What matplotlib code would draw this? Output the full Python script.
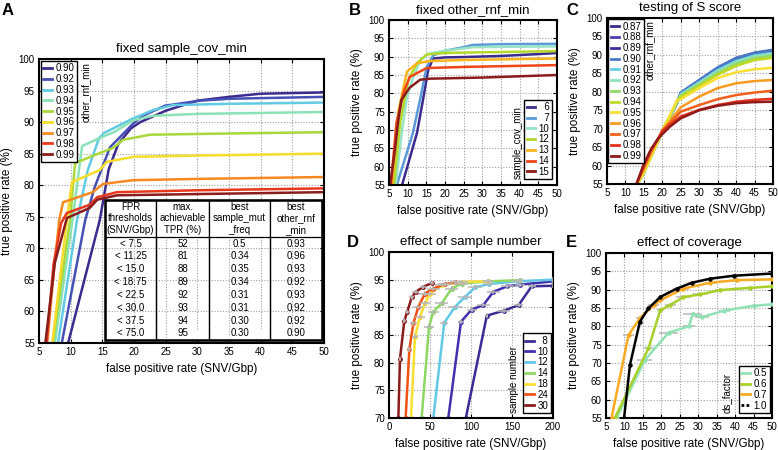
import matplotlib.pyplot as plt
from matplotlib.lines import Line2D
from matplotlib.patches import Rectangle

plt.rcParams['font.family'] = ['Liberation Sans', 'DejaVu Sans']

W, H = 778, 450

# ---------------- panel A : fixed sample_cov_min ----------------
a_labels = ['0.90', '0.92', '0.93', '0.94', '0.95', '0.96', '0.97', '0.98', '0.99']
a_colors = ['#3c2a8f', '#4650b4', '#62cbe4', '#8ae2b6', '#a9d83a', '#f7dc2c', '#f6891f', '#e8381c', '#8b1c1c']
a_x = [
    [9.6, 14.6, 16.0, 17.5, 19.5, 21.0, 25.0, 30.0, 35.0, 40.0, 50.0],
    [8.6, 12.3, 13.8, 16.2, 19.9, 21.4, 24.9, 30.4, 35.0, 50.0],
    [8.0, 11.0, 12.7, 14.5, 15.3, 19.9, 23.0, 26.2, 35.0, 50.0],
    [7.5, 10.3, 11.8, 14.2, 17.0, 19.9, 23.0, 30.0, 50.0],
    [7.2, 9.9, 10.7, 14.6, 16.7, 18.3, 22.5, 35.0, 50.0],
    [7.1, 9.4, 10.2, 14.6, 15.7, 19.9, 30.0, 50.0],
    [6.3, 7.4, 8.2, 8.8, 13.5, 15.1, 19.9, 30.0, 50.0],
    [6.2, 7.3, 8.5, 9.4, 13.0, 14.2, 17.3, 30.0, 50.0],
    [6.0, 7.5, 9.4, 13.0, 14.2, 17.3, 30.0, 50.0],
]
a_y = [
    [55, 74.5, 82.5, 86.5, 89.0, 90.0, 91.8, 93.4, 94.0, 94.5, 94.7],
    [55, 74.5, 79.7, 86.0, 89.8, 91.0, 92.6, 93.4, 93.7, 94.0],
    [55, 74.5, 82.4, 87.5, 88.3, 90.6, 91.9, 92.7, 92.9, 93.1],
    [55, 74.5, 86.2, 87.3, 88.5, 90.3, 91.0, 91.3, 91.6],
    [55, 74.5, 83.5, 85.1, 85.9, 87.2, 88.0, 88.2, 88.4],
    [55, 74.5, 80.5, 82.4, 83.7, 84.5, 84.7, 85.0],
    [55, 67.0, 74.5, 77.3, 78.9, 80.2, 80.8, 81.0, 81.3],
    [55, 67.5, 74.0, 75.6, 76.9, 78.1, 78.9, 79.2, 79.5],
    [55, 67.7, 74.8, 76.4, 77.7, 78.4, 78.6, 78.9],
]
table_header = ['FPR\nthresholds\n(SNV/Gbp)', 'max.\nachievable\nTPR (%)',
                'best\nsample_mut\n_freq', 'best\nother_rnf\n_min']
table_fpr = ['< 7.5', '< 11.25', '< 15.0', '< 18.75', '< 22.5', '< 30.0', '< 37.5', '< 75.0']
table_tpr = ['52', '81', '88', '89', '92', '93', '94', '95']
table_mut = ['0.5', '0.34', '0.35', '0.34', '0.31', '0.31', '0.30', '0.30']
table_rnf = ['0.93', '0.96', '0.93', '0.92', '0.93', '0.92', '0.92', '0.90']

# ---------------- panel B : fixed other_rnf_min ----------------
b_labels = ['6', '7', '10', '12', '13', '14', '15']
b_colors = ['#3c2a8f', '#5a9ad8', '#96e4c4', '#b4d82a', '#fbb41c', '#ef4616', '#8b1c1c']
b_x = [
    [8.5, 12.5, 14.1, 15.5, 16.8, 20, 25, 35, 45, 50],
    [7.1, 11.4, 13.3, 15.1, 16.8, 20, 25, 27.5, 35, 50],
    [6.8, 8.5, 9.8, 11.2, 13.3, 15.5, 20, 27.5, 50],
    [6.3, 8.0, 10.1, 12.5, 15.1, 20, 30, 50],
    [5.8, 7.5, 9.8, 12.5, 16, 25, 50],
    [5.5, 7.0, 9.0, 10.6, 15.1, 25, 50],
    [5.3, 6.6, 7.4, 8.3, 10.5, 13.3, 16, 30, 50],
]
b_y = [
    [55, 69.2, 78.2, 86.4, 89.5, 89.8, 89.9, 90.2, 90.7, 91.0],
    [55, 69.2, 78.2, 87.2, 90.3, 91.6, 92.6, 93.2, 93.4, 93.5],
    [55, 70.0, 79.0, 83.6, 89.0, 90.8, 91.6, 92.6, 92.8],
    [55, 72.0, 83.6, 88.2, 90.6, 91.0, 91.2, 91.5],
    [55, 75.0, 85.9, 88.2, 88.8, 89.1, 89.5],
    [55, 72.0, 80.5, 84.5, 86.9, 87.2, 87.7],
    [55, 64.6, 71.9, 78.2, 81.5, 83.7, 84.0, 84.3, 85.0],
]

# ---------------- panel C : testing of S score ----------------
c_labels = ['0.87', '0.88', '0.89', '0.90', '0.91', '0.92', '0.93',
            '0.94', '0.95', '0.96', '0.97', '0.98', '0.99']
c_colors = ['#3a2c8c', '#4a3db0', '#3f2c9c', '#4c78c6', '#62cde6', '#90e2ba', '#94d866',
            '#c2d822', '#f8e032', '#f79a20', '#f0601a', '#e0301a', '#901a1a']
c_x_top = [13.2, 15, 17, 19, 20, 22, 24, 25, 30, 35, 40, 45, 50]
c_x_low = [13.0, 15, 17, 19, 20, 22, 25, 30, 35, 40, 45, 50]
c_y = [
    [55, 58.5, 63.0, 67.0, 69.5, 73.0, 77.0, 79.5, 82.8, 86.2, 88.8, 90.2, 91.0],
    [55, 58.3, 62.8, 67.0, 69.3, 73.0, 77.0, 79.6, 83.0, 86.4, 89.0, 90.4, 91.2],
    [55, 58.4, 62.9, 67.1, 69.4, 73.1, 77.1, 79.7, 83.1, 86.5, 89.1, 90.5, 91.2],
    [55, 58.2, 62.7, 67.0, 69.4, 73.2, 77.2, 79.8, 83.2, 86.6, 89.2, 90.6, 91.4],
    [55, 57.8, 62.5, 66.8, 69.3, 73.0, 77.0, 79.4, 82.6, 85.9, 88.4, 89.9, 90.6],
    [55, 58.0, 62.6, 66.9, 69.4, 73.1, 77.1, 79.2, 82.4, 85.6, 88.1, 89.6, 90.3],
    [55, 58.1, 62.7, 67.0, 69.5, 73.2, 77.3, 79.0, 82.0, 85.1, 87.6, 89.1, 89.8],
    [55, 58.0, 62.6, 67.0, 69.6, 73.4, 77.5, 78.6, 81.6, 84.6, 87.0, 88.6, 89.2],
    [55, 58.0, 62.5, 67.0, 69.5, 73.5, 77.8, 78.0, 81.0, 83.7, 85.3, 86.1, 86.5],
]
c_y_low = [
    [55, 59.0, 63.5, 67.5, 69.5, 72.0, 75.8, 78.7, 81.0, 82.3, 82.9, 83.2],
    [55, 59.5, 64.0, 67.5, 69.5, 71.5, 74.6, 76.4, 78.0, 79.1, 79.8, 80.3],
    [55, 60.0, 64.5, 67.5, 69.3, 71.0, 73.3, 75.1, 76.4, 77.3, 77.8, 78.1],
    [55, 60.5, 64.5, 67.5, 68.5, 70.5, 72.8, 75.0, 76.2, 76.9, 77.2, 77.3],
]

# ---------------- panel D : effect of sample number ----------------
d_labels = ['8', '10', '12', '14', '18', '24', '30']
d_colors = ['#3b2c94', '#4330ae', '#62c8e6', '#8cd862', '#f8e032', '#f05212', '#8b1c1c']
d_x = [
    [93.7, 119.3, 140, 158, 174, 200],
    [72.3, 87.8, 100.8, 115, 127.2, 144, 160, 200],
    [54, 67.4, 80.5, 92.7, 104.9, 121.6, 156, 200],
    [39.8, 48.8, 54, 64.2, 76.4, 88.6, 121, 160],
    [26.8, 31.7, 37.8, 43.9, 50, 64.2, 88.6, 121],
    [20.3, 24.8, 29.7, 35.8, 43.9, 54, 68.3, 80],
    [11.4, 13.4, 18.7, 22.3, 27.7, 32.6, 41.8, 52.1],
]
d_y = [
    [70, 88.5, 89.4, 90.4, 93.8, 93.9],
    [70, 87.4, 89.6, 90.4, 92.8, 93.8, 94.1, 94.7],
    [70, 87.2, 90.1, 91.9, 93.6, 94.2, 94.7, 95.0],
    [70, 86.5, 89.2, 90.7, 93.4, 94.3, 94.7, 94.9],
    [70, 84.7, 88.3, 90.7, 92.5, 94.0, 94.6, 94.7],
    [70, 82.4, 87.1, 90.1, 92.5, 93.4, 94.2, 94.5],
    [70, 80.7, 87.6, 89.2, 91.8, 92.8, 93.7, 94.4],
]
d_xerr = [
    [0, 2, 8, 5, 5, 0],
    [0, 4, 6, 8, 8, 8, 6, 0],
    [0, 5, 9, 8, 8, 7, 6, 0],
    [0, 6, 7, 8, 8, 8, 6, 4],
    [0, 4, 6, 6, 7, 8, 8, 6],
    [0, 3, 4, 6, 7, 8, 8, 6],
    [0, 1, 2, 3, 3, 4, 4, 3],
]

# ---------------- panel E : effect of coverage ----------------
e_labels = ['0.5', '0.6', '0.7', '1.0']
e_colors = ['#90e2b4', '#a8d02a', '#f8aa22', '#000000']
e_x = [
    [7.9, 15.5, 22.0, 27.5, 28.5, 31.0, 37.0, 45.0, 50.0],
    [7.4, 16.5, 19.7, 22.4, 26.0, 30.5, 36.0, 44.1, 50.0],
    [6.5, 11.1, 14.2, 17.9, 19.7, 26.0, 33.3, 40.5, 50.0],
    [9.9, 11.5, 14.2, 16.5, 19.7, 24.2, 28.3, 33.3, 39.6, 50.0],
]
e_y = [
    [55, 70.8, 78.3, 80.0, 83.4, 82.5, 84.3, 85.6, 86.0],
    [55, 74.0, 84.4, 85.8, 88.0, 88.7, 89.9, 90.5, 90.9],
    [55, 77.6, 82.2, 85.8, 87.1, 90.3, 91.9, 92.6, 92.8],
    [55, 69.5, 81.3, 84.9, 88.0, 90.3, 91.9, 93.0, 93.8, 94.4],
]
e_xerr = [
    [0, 2.0, 2.5, 1.5, 2.5, 2.0, 1.5, 1.5, 0],
    [0, 1.5, 1.0, 1.5, 2.0, 2.0, 1.5, 1.5, 0],
    [0, 1.5, 1.0, 1.5, 1.0, 1.5, 1.5, 1.0, 0],
    [0, 0.5, 0.5, 0.5, 0.5, 1.0, 1.0, 1.0, 1.0, 0],
]

fig = plt.figure(figsize=(7.78, 4.5), dpi=100)


def px_axes(left, top, right, bottom):
    return fig.add_axes([left / W, 1 - bottom / H, (right - left) / W, (bottom - top) / H])


def style(ax, xlim, ylim, step_x, step_y, title):
    ax.set_xlim(xlim)
    ax.set_ylim(ylim)
    ax.set_xticks(range(xlim[0], xlim[1] + 1, step_x))
    ax.set_yticks(range(ylim[0], ylim[1] + 1, step_y))
    ax.grid(True, color='#a0a0a0', linestyle=(0, (1, 1.5)), linewidth=0.8)
    ax.set_axisbelow(True)
    ax.tick_params(direction='in', length=3, width=0.8, labelsize=7, pad=3,
                   top=True, right=True)
    for s in ax.spines.values():
        s.set_linewidth(1.5)
    ax.set_xlabel('false positive rate (SNV/Gbp)', fontsize=8.4, labelpad=4)
    ax.set_ylabel('true positive rate (%)', fontsize=8.4, labelpad=4)
    ax.set_title(title, fontsize=9.5, pad=5)


def key(ax, handles, labels, loc, anchor):
    leg = ax.legend(handles, labels, loc=loc, bbox_to_anchor=anchor, fontsize=7,
                    frameon=True, fancybox=False, framealpha=1, edgecolor='black',
                    handlelength=0.9, handletextpad=0.35, labelspacing=0.08,
                    borderpad=0.25, borderaxespad=0)
    leg.get_frame().set_linewidth(1.0)
    leg.set_zorder(6)
    return leg


def pad(lbl, n):
    return '\u2007' * (n - len(lbl)) + lbl


# ---- A ----
axA = px_axes(39, 59, 324, 343)
style(axA, (5, 50), (55, 100), 5, 5, 'fixed sample_cov_min')
for x, y, c in zip(a_x, a_y, a_colors):
    axA.plot(x, y, color=c, lw=1.8, solid_joinstyle='round')
hA = [Line2D([], [], color=c, lw=2) for c in a_colors]
key(axA, hA, a_labels, 'upper left', (0.007, 0.993))
axA.text(0.163, 0.99, 'other_rnf_min', rotation=90, transform=axA.transAxes,
         ha='center', va='top', fontsize=7)

cells = [list(r) for r in zip(table_fpr, table_tpr, table_mut, table_rnf)]
tab = axA.table(cellText=cells, colLabels=table_header, cellLoc='center',
                colWidths=[51, 53, 61, 52], bbox=[0.232, 0.011, 0.761, 0.493])
tab.auto_set_font_size(False)
tab.set_fontsize(7)
tab.set_zorder(5)
nrows = len(cells)
for (r, c), cell in tab.get_celld().items():
    cell.set_linewidth(0.9)
    cell.set_facecolor('white')
    if r == 0:
        cell.set_height(2.9)
        cell.visible_edges = 'closed'
    else:
        cell.set_height(1.0)
        cell.visible_edges = 'LR' if r < nrows else 'BLR'
axA.add_patch(Rectangle((0.232, 0.011), 0.761, 0.493, transform=axA.transAxes,
                        fill=False, lw=1.8, edgecolor='black', zorder=7))

# ---- B ----
axB = px_axes(389, 20, 557, 185)
style(axB, (5, 50), (55, 100), 5, 5, 'fixed other_rnf_min')
for x, y, c in zip(b_x, b_y, b_colors):
    axB.plot(x, y, color=c, lw=1.8)
hB = [Line2D([], [], color=c, lw=2) for c in b_colors]
key(axB, hB, [pad(l, 2) for l in b_labels], 'lower right', (0.97, 0.035))
axB.text(0.765, 0.035, 'sample_cov_min', rotation=90, transform=axB.transAxes,
         ha='center', va='bottom', fontsize=7)

# ---- C ----
axC = px_axes(607, 18, 773, 184)
style(axC, (5, 50), (55, 100), 5, 5, 'testing of S score')
for y, c in zip(c_y, c_colors[:9]):
    axC.plot(c_x_top, y, color=c, lw=1.8)
for y, c in zip(c_y_low, c_colors[9:]):
    axC.plot(c_x_low, y, color=c, lw=1.8)
hC = [Line2D([], [], color=c, lw=2) for c in c_colors]
key(axC, hC, c_labels, 'upper left', (0.007, 0.993))
axC.text(0.255, 0.99, 'other_rnf_min', rotation=90, transform=axC.transAxes,
         ha='center', va='top', fontsize=7)

# ---- D ----
axD = px_axes(389, 252, 553, 418)
style(axD, (0, 200), (70, 100), 50, 5, 'effect of sample number')
for x, y, xe, c in zip(d_x, d_y, d_xerr, d_colors):
    axD.plot(x, y, color=c, lw=1.8, marker='o', ms=2.5)
    axD.errorbar(x[1:], y[1:], xerr=xe[1:], yerr=0.4, fmt='none',
                 ecolor='#b8b8b8', elinewidth=1.1, capsize=0, zorder=3)
hD = [Line2D([], [], color=c, lw=2) for c in d_colors]
key(axD, hD, [pad(l, 2) for l in d_labels], 'lower right', (0.985, 0.03))
axD.text(0.76, 0.03, 'sample number', rotation=90, transform=axD.transAxes,
         ha='center', va='bottom', fontsize=7)

# ---- E ----
axE = px_axes(606, 253, 772, 418)
style(axE, (5, 50), (55, 100), 5, 5, 'effect of coverage')
for x, y, xe, c in zip(e_x, e_y, e_xerr, e_colors):
    axE.errorbar(x[1:-1], y[1:-1], xerr=xe[1:-1], yerr=0.5, fmt='none',
                 ecolor='#b8b8b8', elinewidth=1.1, capsize=0, zorder=3)
    axE.plot(x, y, color=c, lw=1.8, marker='o', ms=2.2, zorder=4)
hE = [Line2D([], [], color=c, lw=2) for c in e_colors[:3]]
hE.append(Line2D([], [], color='black', lw=2, linestyle=(0, (1, 0.8))))
key(axE, hE, e_labels, 'lower right', (0.985, 0.03))
axE.text(0.725, 0.03, 'ds_factor', rotation=90, transform=axE.transAxes,
         ha='center', va='bottom', fontsize=7)

# panel letters
for lbl, x, y in [('A', 2, 3), ('B', 349, 3), ('C', 566, 3), ('D', 347, 235), ('E', 566, 235)]:
    fig.text(x / W, 1 - y / H, lbl, fontsize=12, fontweight='bold', ha='left', va='top')

fig.savefig('out.png', dpi=100)
